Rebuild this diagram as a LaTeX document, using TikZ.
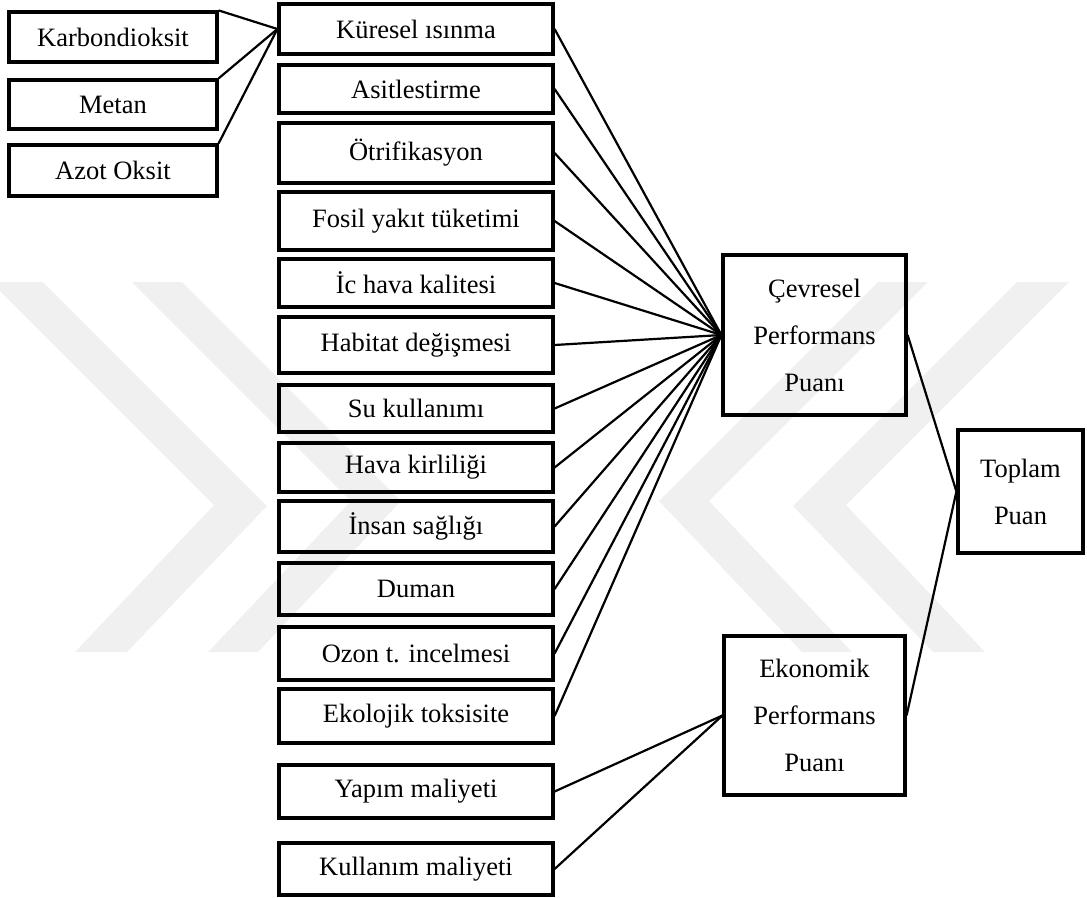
\documentclass[tikz,border=0pt]{standalone}
\usepackage{fontspec}
\setmainfont{Liberation Serif}
\usetikzlibrary{positioning}

\begin{document}
\begin{tikzpicture}[x=1pt, y=-1pt,
    box/.style={draw, line width=3.2pt, inner sep=0pt, align=center,
        font=\fontsize{26.5}{47}\selectfont},
    link/.style={line width=2.2pt}]
    \useasboundingbox (0,0) rectangle (1087,897);
    % Watermark
    \fill[black!6] (-9,282) -- (43,282) -- (267,506) -- (127,652) -- (75,652) -- (214,505) -- cycle;
    \fill[black!6] (132,282) -- (182,282) -- (401,501) -- (258,652) -- (208,652) -- (351,501) -- cycle;
    \fill[black!6] (1069,282) -- (1017,282) -- (793,506) -- (933,652) -- (985,652) -- (846,505) -- cycle;
    \fill[black!6] (928,282) -- (878,282) -- (659,501) -- (802,652) -- (852,652) -- (709,501) -- cycle;
    % Gases
    \foreach \n/\t/\b/\s in {gas1/12/62/Karbondioksit, gas2/80/129/Metan, gas3/145/196/Azot Oksit}
        \node[box, minimum width=208, minimum height=\b-\t] (\n) at (113,{(\t+\b)/2}) {\s};
    % Criteria
    \foreach \i/\t/\b/\s in {1/4/54/Küresel ısınma, 2/65/113/Asitlestirme, 3/123/183/Ötrifikasyon,
        4/192/250/Fosil yakıt tüketimi, 5/259/307/İc hava kalitesi, 6/317/373/Habitat değişmesi,
        7/385/432/Su kullanımı, 8/443/492/Hava kirliliği, 9/501/552/İnsan sağlığı,
        10/563/615/Duman, 11/627/680/Ozon t. incelmesi, 12/689/743/Ekolojik toksisite,
        13/765/818/Yapım maliyeti, 14/843/895/Kullanım maliyeti}
        \node[box, minimum width=274, minimum height=\b-\t] (crit\i) at (416,{(\t+\b)/2}) {\s};
    % Scores
    \node[box, minimum width=183, minimum height=160] (env) at (814.5,335) {Çevresel\\Performans\\Puanı};
    \node[box, minimum width=181, minimum height=159] (eco) at (814.5,715.5) {Ekonomik\\Performans\\Puanı};
    \node[box, minimum width=125, minimum height=123] (total) at (1020.5,491.5) {Toplam\\Puan};
    % Links
    \foreach \n in {gas1,gas2,gas3}
        \draw[link] (\n.north east) -- (crit1.west);
    \foreach \i in {1,...,12}
        \draw[link] (crit\i.east) -- (env.west);
    \foreach \i in {13,14}
        \draw[link] (crit\i.east) -- (eco.west);
    \draw[link] (env.east) -- (total.west);
    \draw[link] (eco.east) -- (total.west);
\end{tikzpicture}
\end{document}
